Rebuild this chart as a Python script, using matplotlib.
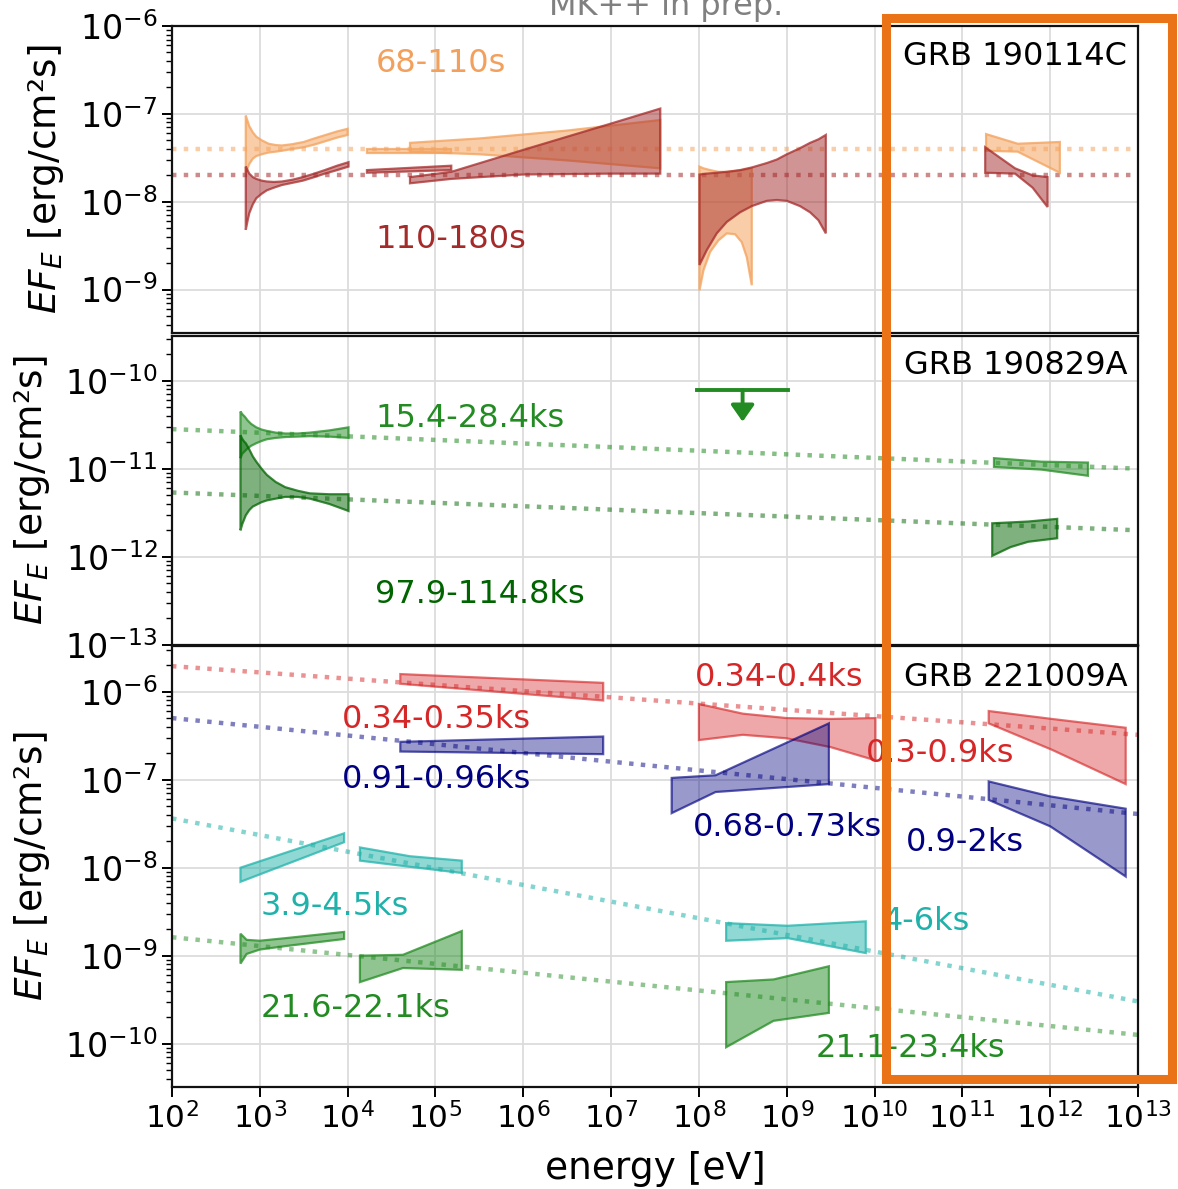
import numpy as np
import matplotlib
matplotlib.use("Agg")
import matplotlib.pyplot as plt
from matplotlib.colors import to_rgba
from matplotlib.patches import Rectangle
from matplotlib.ticker import LogLocator, NullLocator, NullFormatter

# ---------------- data: log10(E / eV) and log10(EF_E / erg cm^-2 s^-1) ----------------
# GRB 190114C, 68-110 s
a_xrt_E  = [2.84, 2.86, 2.88, 2.92, 2.96, 3.02, 3.10, 3.18, 3.25, 3.37, 3.50, 3.62, 3.75, 3.88, 4.00]
a_xrt_hi = [-7.02, -7.08, -7.14, -7.21, -7.26, -7.30, -7.34, -7.355, -7.36, -7.345, -7.32, -7.28, -7.24, -7.20, -7.17]
a_xrt_lo = [-7.68, -7.62, -7.57, -7.51, -7.48, -7.46, -7.44, -7.43, -7.42, -7.40, -7.38, -7.35, -7.31, -7.27, -7.24]
a_bat_E  = [4.22, 5.18]
a_bat_hi = [-7.40, -7.40]
a_bat_lo = [-7.44, -7.44]
a_gbm_E  = [4.71, 5.50, 6.50, 7.56]
a_gbm_hi = [-7.33, -7.28, -7.19, -7.07]
a_gbm_lo = [-7.43, -7.46, -7.53, -7.62]
a_lat_E  = [8.006, 8.052, 8.128, 8.222, 8.317, 8.412, 8.488, 8.545, 8.602]
a_lat_hi = [-7.60, -7.62, -7.64, -7.66, -7.66, -7.65, -7.64, -7.63, -7.62]
a_lat_lo = [-9.01, -8.78, -8.57, -8.44, -8.36, -8.37, -8.46, -8.63, -8.95]
a_magic_E  = [11.27, 11.63, 12.11]
a_magic_hi = [-7.23, -7.34, -7.32]
a_magic_lo = [-7.42, -7.43, -7.67]
a_ref = -7.40

# GRB 190114C, 110-180 s
b_xrt_E  = [2.84, 2.86, 2.88, 2.92, 2.96, 3.02, 3.08, 3.16, 3.25, 3.37, 3.49, 3.62, 3.74, 3.88, 4.01]
b_xrt_hi = [-7.60, -7.64, -7.68, -7.72, -7.74, -7.76, -7.77, -7.775, -7.77, -7.75, -7.72, -7.68, -7.64, -7.59, -7.55]
b_xrt_lo = [-8.32, -8.22, -8.13, -8.03, -7.96, -7.91, -7.87, -7.84, -7.81, -7.785, -7.76, -7.72, -7.68, -7.64, -7.60]
b_bat_E  = [4.22, 5.18]
b_bat_hi = [-7.64, -7.59]
b_bat_lo = [-7.67, -7.64]
b_gbm_E  = [4.71, 5.18, 6.00, 7.00, 7.56]
b_gbm_hi = [-7.72, -7.66, -7.41, -7.11, -6.94]
b_gbm_lo = [-7.79, -7.74, -7.69, -7.68, -7.68]
b_lat_E  = [8.006, 8.09, 8.203, 8.317, 8.469, 8.602, 8.773, 8.887, 9.001, 9.152, 9.266, 9.361, 9.445]
b_lat_hi = [-7.69, -7.68, -7.67, -7.66, -7.64, -7.61, -7.56, -7.52, -7.46, -7.39, -7.33, -7.29, -7.24]
b_lat_lo = [-8.72, -8.55, -8.36, -8.23, -8.12, -8.05, -7.99, -7.98, -7.99, -8.05, -8.12, -8.21, -8.36]
b_magic_E  = [11.26, 11.60, 11.80, 11.97]
b_magic_hi = [-7.38, -7.62, -7.70, -7.72]
b_magic_lo = [-7.67, -7.68, -7.84, -8.06]
b_ref = -7.70

# GRB 190829A, 15.4-28.4 ks
c_xrt_E  = [2.78, 2.80, 2.83, 2.86, 2.90, 2.96, 3.02, 3.08, 3.18, 3.29, 3.43, 3.57, 3.79, 4.01]
c_xrt_hi = [-10.35, -10.38, -10.41, -10.45, -10.49, -10.53, -10.555, -10.57, -10.59, -10.60, -10.60, -10.59, -10.565, -10.53]
c_xrt_lo = [-10.88, -10.83, -10.80, -10.77, -10.74, -10.71, -10.685, -10.665, -10.65, -10.64, -10.635, -10.63, -10.635, -10.65]
c_hess_E  = [11.36, 11.90, 12.43]
c_hess_hi = [-10.88, -10.92, -10.93]
c_hess_lo = [-10.98, -11.01, -11.08]
c_line_E = [2.0, 13.0]
c_line_F = [-10.55, -11.00]
c_ul_E = [7.975, 9.02]
c_ul_F = -10.106
c_ul_tip = -10.466

# GRB 190829A, 97.9-114.8 ks
d_xrt_E  = [2.78, 2.80, 2.82, 2.84, 2.88, 2.92, 2.96, 3.02, 3.08, 3.18, 3.29, 3.43, 3.57, 3.79, 4.01]
d_xrt_hi = [-10.62, -10.66, -10.69, -10.71, -10.78, -10.86, -10.92, -11.00, -11.07, -11.15, -11.21, -11.25, -11.28, -11.29, -11.29]
d_xrt_lo = [-11.70, -11.63, -11.58, -11.53, -11.47, -11.43, -11.41, -11.38, -11.36, -11.34, -11.32, -11.32, -11.34, -11.40, -11.48]
d_hess_E  = [11.34, 11.55, 11.75, 12.08]
d_hess_hi = [-11.62, -11.61, -11.60, -11.57]
d_hess_lo = [-11.99, -11.89, -11.83, -11.79]
d_line_E = [2.0, 13.0]
d_line_F = [-11.27, -11.70]

# GRB 221009A
r1_E, r1_hi, r1_lo = [4.60, 6.91], [-5.80, -5.90], [-5.91, -6.10]
r2_E  = [8.00, 8.50, 9.00, 9.50, 10.01]
r2_hi = [-6.14, -6.25, -6.30, -6.31, -6.30]
r2_lo = [-6.55, -6.49, -6.53, -6.63, -6.78]
r3_E, r3_hi, r3_lo = [11.30, 12.02, 12.86], [-6.22, -6.31, -6.41], [-6.36, -6.66, -7.05]
r_line_F = [-5.71, -6.49]

n1_E, n1_hi, n1_lo = [4.60, 6.91], [-6.57, -6.51], [-6.68, -6.71]
n2_E, n2_hi, n2_lo = [7.69, 8.19, 9.48], [-6.98, -6.95, -6.36], [-7.38, -7.14, -7.05]
n3_E, n3_hi, n3_lo = [11.30, 12.00, 12.86], [-7.02, -7.19, -7.33], [-7.23, -7.53, -8.10]
n_line_F = [-6.30, -7.39]

t1_E, t1_hi, t1_lo = [2.78, 3.96], [-8.00, -7.61], [-8.16, -7.71]
t2_E, t2_hi, t2_lo = [4.14, 4.71, 5.30], [-7.77, -7.87, -7.92], [-7.92, -7.99, -8.06]
t3_E, t3_hi, t3_lo = [8.31, 9.01, 9.90], [-8.63, -8.66, -8.61], [-8.83, -8.80, -8.97]
t_line_F = [-7.44, -9.52]

g1_E  = [2.78, 2.85, 3.00, 3.30, 3.96]
g1_hi = [-8.75, -8.82, -8.83, -8.80, -8.73]
g1_lo = [-9.09, -8.98, -8.93, -8.89, -8.81]
g2_E, g2_hi, g2_lo = [4.14, 4.63, 5.30], [-9.00, -8.99, -8.72], [-9.30, -9.14, -9.16]
g3_E, g3_hi, g3_lo = [8.31, 8.85, 9.48], [-9.30, -9.27, -9.12], [-10.04, -9.74, -9.65]
g_line_F = [-8.79, -9.90]
line_E = [2.0, 13.0]

# ---------------- figure ----------------
W, H = 1178, 1189
fig = plt.figure(figsize=(W / 100, H / 100), dpi=100)

def pos(top, bottom, left=172, right=1138):
    return [left / W, 1 - bottom / H, (right - left) / W, (bottom - top) / H]

ax1 = fig.add_axes(pos(26, 333))
ax2 = fig.add_axes(pos(336, 645))
ax3 = fig.add_axes(pos(646, 1087))

ylims = [(-9.494, -6.0), (-13.003, -9.492), (-10.492, -5.481)]
label_x = [-0.110, -0.124, -0.124]
for ax, yl, lx in zip([ax1, ax2, ax3], ylims, label_x):
    ax.set_xscale("log")
    ax.set_yscale("log")
    ax.set_xlim(1e2, 1e13)
    ax.set_ylim(10 ** yl[0], 10 ** yl[1])
    ax.xaxis.set_major_locator(LogLocator(base=10, numticks=30))
    ax.xaxis.set_minor_locator(NullLocator())
    ax.yaxis.set_major_locator(LogLocator(base=10, numticks=30))
    ax.yaxis.set_minor_locator(LogLocator(base=10, subs=np.arange(2, 10), numticks=30))
    ax.yaxis.set_minor_formatter(NullFormatter())
    ax.grid(True, which="major", color="#dcdcdc", lw=1.3)
    ax.set_axisbelow(True)
    ax.tick_params(which="major", length=7, width=1.4)
    ax.tick_params(axis="y", which="major", labelsize=24)
    ax.tick_params(axis="x", which="major", labelsize=22.5)
    ax.tick_params(which="minor", length=4, width=1.0)
    for sp in ax.spines.values():
        sp.set_linewidth(1.6)
        sp.set_color("#111111")
    ax.set_ylabel(r"$EF_E$ [erg/cm²s]", fontsize=27)
    ax.yaxis.set_label_coords(lx, 0.5)

for ax in (ax1, ax2):
    ax.tick_params(axis="x", labelbottom=False, length=0)
ax3.set_xlabel("energy [eV]", fontsize=27, labelpad=12)


def band(ax, E, hi, lo, color, alpha, z=2):
    e = 10 ** np.asarray(E, float)
    x = np.concatenate([e, e[::-1]])
    y = np.concatenate([10 ** np.asarray(hi, float), 10 ** np.asarray(lo, float)[::-1]])
    ax.fill(x, y, fc=to_rgba(color, alpha), ec=to_rgba(color, min(1.0, alpha + 0.25)),
            lw=1.6, zorder=z)


def dotted(ax, E, F, color, alpha=0.55):
    ax.plot(10 ** np.asarray(E, float), 10 ** np.asarray(F, float), ls=":", lw=3.2,
            color=color, alpha=alpha, zorder=1.5)


def label(ax, x, y, s, color, ha="left"):
    ax.text(x, y, s, transform=ax.transAxes, ha=ha, va="baseline", fontsize=23,
            color=color, zorder=5)

# ---- panel 1: GRB 190114C
c_or, c_br = "sandybrown", "brown"
ax1.axhline(10 ** a_ref, ls=":", lw=3.2, color=c_or, alpha=0.55, zorder=1.5)
ax1.axhline(10 ** b_ref, ls=":", lw=3.2, color=c_br, alpha=0.55, zorder=1.5)
for E, hi, lo in [(a_xrt_E, a_xrt_hi, a_xrt_lo), (a_bat_E, a_bat_hi, a_bat_lo),
                  (a_gbm_E, a_gbm_hi, a_gbm_lo), (a_lat_E, a_lat_hi, a_lat_lo),
                  (a_magic_E, a_magic_hi, a_magic_lo)]:
    band(ax1, E, hi, lo, c_or, 0.55)
for E, hi, lo in [(b_xrt_E, b_xrt_hi, b_xrt_lo), (b_bat_E, b_bat_hi, b_bat_lo),
                  (b_gbm_E, b_gbm_hi, b_gbm_lo), (b_lat_E, b_lat_hi, b_lat_lo),
                  (b_magic_E, b_magic_hi, b_magic_lo)]:
    band(ax1, E, hi, lo, c_br, 0.5)
label(ax1, 0.211, 0.850, "68-110s", "#f2a05c")
label(ax1, 0.211, 0.277, "110-180s", c_br)
label(ax1, 0.989, 0.873, "GRB 190114C", "black", ha="right")

# ---- panel 2: GRB 190829A
c_lg, c_dg = "forestgreen", "darkgreen"
dotted(ax2, c_line_E, c_line_F, c_lg)
dotted(ax2, d_line_E, d_line_F, c_dg, 0.5)
band(ax2, c_xrt_E, c_xrt_hi, c_xrt_lo, c_lg, 0.5)
band(ax2, c_hess_E, c_hess_hi, c_hess_lo, c_lg, 0.5)
band(ax2, d_xrt_E, d_xrt_hi, d_xrt_lo, c_dg, 0.5)
band(ax2, d_hess_E, d_hess_hi, d_hess_lo, c_dg, 0.5)
ax2.plot(10 ** np.asarray(c_ul_E), [10 ** c_ul_F] * 2, color=c_lg, lw=2.8, zorder=3)
e_mid = 10 ** np.mean(c_ul_E)
ax2.annotate("", xy=(e_mid, 10 ** c_ul_tip), xytext=(e_mid, 10 ** c_ul_F),
             arrowprops=dict(arrowstyle="-|>,head_length=0.5,head_width=0.35",
                             color=c_lg, lw=2.8, mutation_scale=20,
                             shrinkA=0, shrinkB=0), zorder=3)
label(ax2, 0.211, 0.706, "15.4-28.4ks", c_lg)
label(ax2, 0.210, 0.136, "97.9-114.8ks", c_dg)
label(ax2, 0.989, 0.877, "GRB 190829A", "black", ha="right")

# ---- panel 3: GRB 221009A
c_r, c_n, c_t, c_g = "tab:red", "navy", "lightseagreen", "forestgreen"
dotted(ax3, line_E, r_line_F, c_r, 0.5)
dotted(ax3, line_E, n_line_F, c_n, 0.5)
dotted(ax3, line_E, t_line_F, c_t, 0.55)
dotted(ax3, line_E, g_line_F, c_g, 0.5)
for E, hi, lo in [(r1_E, r1_hi, r1_lo), (r2_E, r2_hi, r2_lo), (r3_E, r3_hi, r3_lo)]:
    band(ax3, E, hi, lo, c_r, 0.4)
for E, hi, lo in [(n1_E, n1_hi, n1_lo), (n2_E, n2_hi, n2_lo), (n3_E, n3_hi, n3_lo)]:
    band(ax3, E, hi, lo, c_n, 0.4)
for E, hi, lo in [(t1_E, t1_hi, t1_lo), (t2_E, t2_hi, t2_lo), (t3_E, t3_hi, t3_lo)]:
    band(ax3, E, hi, lo, c_t, 0.5)
for E, hi, lo in [(g1_E, g1_hi, g1_lo), (g2_E, g2_hi, g2_lo), (g3_E, g3_hi, g3_lo)]:
    band(ax3, E, hi, lo, c_g, 0.5)
label(ax3, 0.176, 0.815, "0.34-0.35ks", c_r)
label(ax3, 0.176, 0.677, "0.91-0.96ks", c_n)
label(ax3, 0.092, 0.391, "3.9-4.5ks", c_t)
label(ax3, 0.092, 0.158, "21.6-22.1ks", c_g)
label(ax3, 0.541, 0.909, "0.34-0.4ks", c_r)
label(ax3, 0.539, 0.570, "0.68-0.73ks", c_n)
label(ax3, 0.718, 0.737, "0.3-0.9ks", c_r)
label(ax3, 0.760, 0.536, "0.9-2ks", c_n)
label(ax3, 0.736, 0.356, "4-6ks", c_t)
label(ax3, 0.666, 0.067, "21.1-23.4ks", c_g)
label(ax3, 0.989, 0.909, "GRB 221009A", "black", ha="right")

# ---- figure-level annotations
fig.text(666 / W, 1 - 15 / H, "MK++ in prep.", ha="center", va="baseline",
         fontsize=23, color="gray")
fig.add_artist(Rectangle((886 / W, 1 - 1079 / H), (1172 - 886) / W, (1079 - 17.5) / H,
                         transform=fig.transFigure, fill=False, ec="#ea7317",
                         lw=6.5, zorder=10))

fig.savefig("out.png", dpi=100)
